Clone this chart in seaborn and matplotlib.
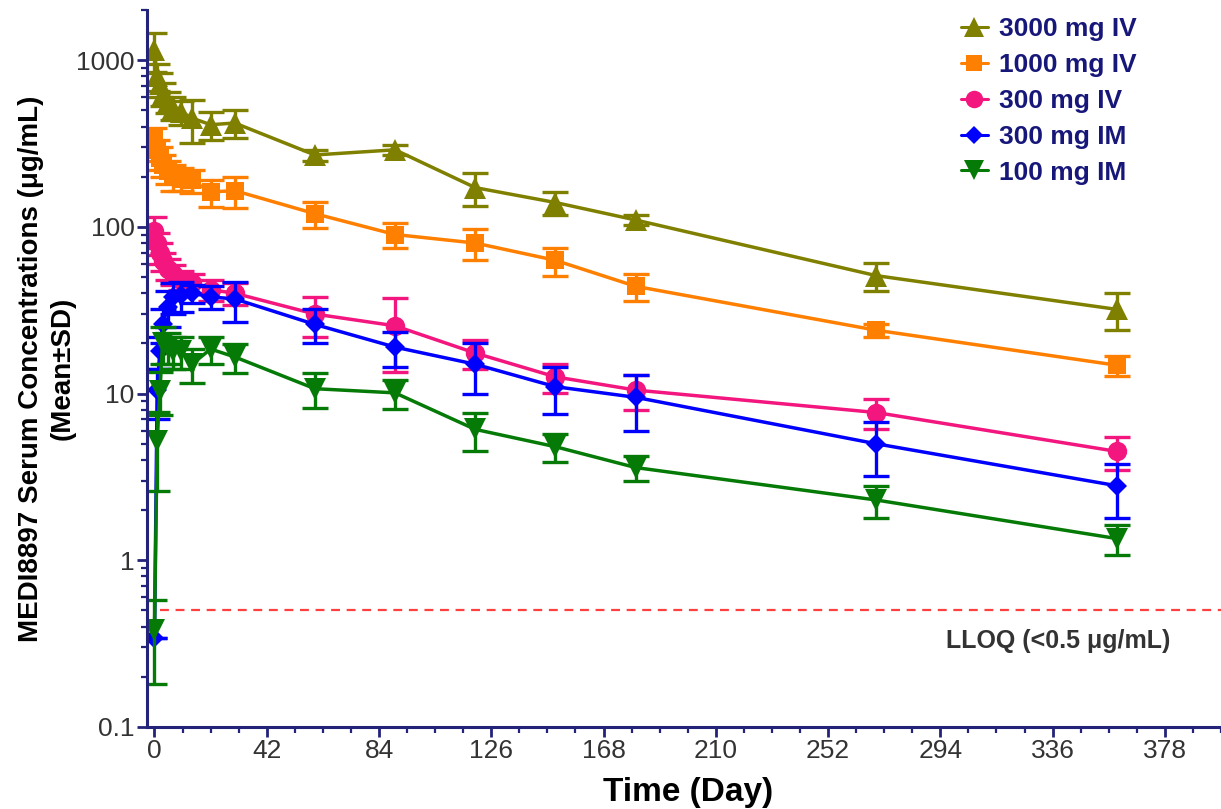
import numpy as np
import pandas as pd
import matplotlib
matplotlib.use("Agg")
import matplotlib.pyplot as plt
import seaborn as sns
from matplotlib.ticker import FixedLocator, LogLocator, MultipleLocator, NullFormatter
from matplotlib.lines import Line2D

# sampling days (day 0 = dosing)
days = [0, 1, 2, 3, 5, 7, 10, 14, 21, 30, 60, 90, 120, 150, 180, 270, 360]
groups = ["3000 mg IV", "1000 mg IV", "300 mg IV", "300 mg IM", "100 mg IM"]

# mean serum concentrations (ug/mL)
mean_3000_iv = [1150, 800, 720, 630, 560, 520, 490, 450, 410, 420, 270, 290, 172, 140, 110, 51, 32]
mean_1000_iv = [340, 290, 260, 235, 215, 200, 195, 190, 162, 165, 120, 90, 80, 63, 44, 24, 14.8]
mean_300_iv = [95, 80, 70, 62, 56, 52, 48, 46, 42, 40, 30, 25.5, 17.5, 12.6, 10.5, 7.7, 4.5]
mean_300_im = [0.34, 10.5, 18, 26, 33, 38, 39, 40, 38, 37, 26, 19, 15, 11, 9.5, 5.0, 2.8]
mean_100_im = [0.38, 5.2, 10.4, 20, 19, 18, 18, 15, 18.5, 16.6, 10.7, 10.1, 6.1, 4.8, 3.6, 2.3, 1.35]

# standard deviations
sd_3000_iv = [300, 150, 120, 100, 80, 80, 80, 130, 80, 80, 20, 20, 38, 22, 8, 10, 8]
sd_1000_iv = [50, 40, 40, 35, 35, 35, 30, 30, 30, 35, 22, 15, 17, 12, 8, 2, 2]
sd_300_iv = [20, 12, 10, 8, 8, 7, 6, 6, 6, 6, 8, 12, 3.5, 2.5, 2.5, 1.6, 1.0]
sd_300_im = [0, 3.5, 4, 6, 8, 8, 8, 5, 6, 10, 6, 4.5, 5, 3.5, 3.5, 1.8, 1.0]
sd_100_im = [0.2, 2.6, 3, 5, 4, 4, 4, 3.5, 3.5, 3.3, 2.5, 2.0, 1.6, 0.9, 0.6, 0.5, 0.28]

means = [mean_3000_iv, mean_1000_iv, mean_300_iv, mean_300_im, mean_100_im]
sds = [sd_3000_iv, sd_1000_iv, sd_300_iv, sd_300_im, sd_100_im]

lloq = 0.5

colors = {"3000 mg IV": "#808000", "1000 mg IV": "#FF7F00", "300 mg IV": "#F2167E",
          "300 mg IM": "#0000FF", "100 mg IM": "#067A06"}
markers = {"3000 mg IV": "^", "1000 mg IV": "s", "300 mg IV": "o",
           "300 mg IM": "D", "100 mg IM": "v"}
msize = {"3000 mg IV": 16, "1000 mg IV": 13.5, "300 mg IV": 14, "300 mg IM": 10.5, "100 mg IM": 16}

rows = []
for g, m in zip(groups, means):
    for d, v in zip(days, m):
        rows.append({"day": d, "conc": v, "group": g})
df = pd.DataFrame(rows)

sns.set_style("ticks")
plt.rcParams["font.family"] = ["Liberation Sans", "DejaVu Sans"]

navy = "#23237A"
fig = plt.figure(figsize=(12.21, 8.09), dpi=100)
ax = fig.add_axes([147 / 1221, 1 - 727 / 809, (1221 - 147) / 1221, (727 - 10) / 809])

for g, m, s in zip(groups, means, sds):
    sub = df[df["group"] == g]
    sns.lineplot(data=sub, x="day", y="conc", color=colors[g], marker=markers[g],
                 markersize=msize[g], markeredgewidth=0, linewidth=2.5,
                 errorbar=None, ax=ax, legend=False)
    ax.errorbar(days, m, yerr=s, fmt="none", ecolor=colors[g], elinewidth=2.4,
                capsize=9.5, capthick=2.4)

ax.axhline(lloq, color="#FF4040", linestyle=(0, (4, 3)), linewidth=1.6, xmin=0.012)
ax.text(338, 0.33, "LLOQ (<0.5 \u03bcg/mL)", ha="center", va="center",
        fontsize=18, fontweight="bold", color="#333333")

ax.set_yscale("log")
ax.set_ylim(0.1, 2000)
ax.set_xlim(-2.8, 399)

ax.yaxis.set_major_locator(FixedLocator([0.1, 1, 10, 100, 1000]))
ax.set_yticklabels(["0.1", "1", "10", "100", "1000"])
ax.yaxis.set_minor_locator(LogLocator(base=10, subs=np.arange(2, 10)))
ax.yaxis.set_minor_formatter(NullFormatter())
ax.xaxis.set_major_locator(MultipleLocator(42))
ax.xaxis.set_minor_locator(MultipleLocator(10.5))

ax.tick_params(axis="both", which="major", length=7, width=2, color=navy,
               labelsize=19, labelcolor="#333333", pad=2)
ax.tick_params(axis="both", which="minor", length=4, width=1.6, color=navy)

sns.despine(ax=ax)
for side in ["left", "bottom"]:
    ax.spines[side].set_color(navy)
    ax.spines[side].set_linewidth(2.2)

ax.set_xlabel("Time (Day)", fontsize=24, fontweight="bold", color="black", va="center")
ax.xaxis.set_label_coords(0.504, -0.092)
ax.set_ylabel("MEDI8897 Serum Concentrations (\u03bcg/mL)\n(Mean\u00b1SD)", fontsize=20,
              fontweight="bold", color="black", va="center", linespacing=1.3)
ax.yaxis.set_label_coords(-0.093, 0.5)

handles = [Line2D([], [], color=colors[g], marker=markers[g], markersize=msize[g] * 0.9,
                  markeredgewidth=0, linewidth=2.2) for g in groups]
leg = fig.legend(handles, groups, loc="upper left", bbox_to_anchor=(948 / 1221, 1 - 4 / 809),
                 frameon=False, handlelength=1.0, handletextpad=0.45, labelspacing=0.45,
                 borderpad=0, prop={"size": 19, "weight": "bold"})
for t in leg.get_texts():
    t.set_color("#17177A")

fig.savefig("out.png", dpi=100)
